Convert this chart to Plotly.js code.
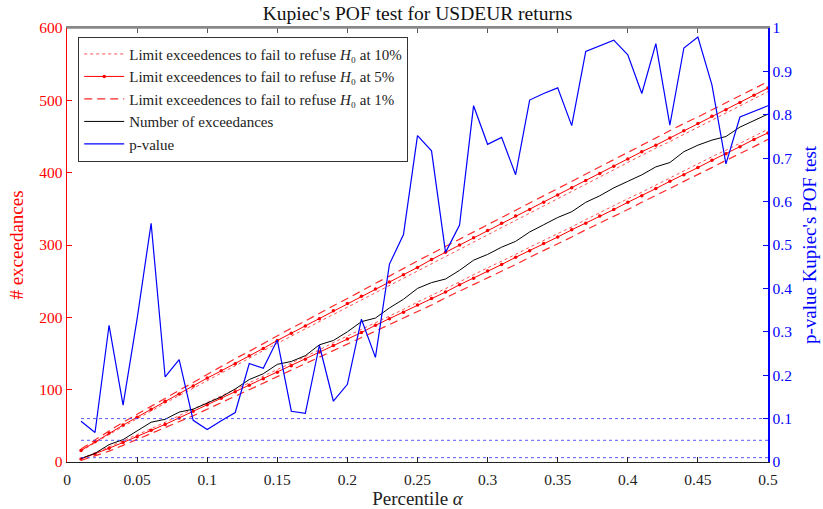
<!DOCTYPE html>
<html>
<head>
<meta charset="utf-8">
<script src="https://cdn.plot.ly/plotly-3.0.1.min.js"></script>
<style>html,body{margin:0;padding:0;background:#fff;}#chart{width:823px;height:509px;}</style>
</head>
<body>
<div id="chart"></div>
<script>
const alpha = [0.01,0.02,0.03,0.04,0.05,0.06,0.07,0.08,0.09,0.10,
  0.11,0.12,0.13,0.14,0.15,0.16,0.17,0.18,0.19,0.20,
  0.21,0.22,0.23,0.24,0.25,0.26,0.27,0.28,0.29,0.30,
  0.31,0.32,0.33,0.34,0.35,0.36,0.37,0.38,0.39,0.40,
  0.41,0.42,0.43,0.44,0.45,0.46,0.47,0.48,0.49,0.50];

const lim10Upper = [15,27,38,49,60,71,81,92,102,113,123,133,144,154,164,174,185,195,205,215,225,235,245,255,265,275,285,295,305,315,325,335,345,355,365,375,384,394,404,414,424,434,443,453,463,473,482,492,502,512];
const lim10Lower = [5,12,21,29,37,46,55,64,73,82,91,100,109,118,128,137,146,155,165,174,183,193,202,211,221,230,240,249,259,268,278,287,297,306,316,325,335,345,354,364,373,383,393,402,412,422,431,441,451,460];
const lim5Upper = [16,28,40,51,62,73,84,94,105,116,126,136,147,157,168,178,188,198,209,219,229,239,249,259,269,280,290,300,310,320,330,340,349,359,369,379,389,399,409,419,429,438,448,458,468,478,487,497,507,517];
const lim5Lower = [4,11,19,27,35,44,52,61,70,79,88,97,106,115,124,133,142,152,161,170,179,189,198,207,217,226,235,245,254,264,273,283,292,302,311,321,330,340,349,359,368,378,388,397,407,417,426,436,446,455];
const lim1Upper = [18,31,43,55,66,77,89,100,110,121,132,143,153,164,174,185,195,206,216,226,237,247,257,268,278,288,298,308,318,328,338,348,358,369,379,388,398,408,418,428,438,448,458,468,477,487,497,507,516,526];
const lim1Lower = [2,8,15,23,31,39,47,56,64,73,82,90,99,108,117,126,135,144,153,162,171,180,190,199,208,217,227,236,245,255,264,273,283,292,302,311,321,330,340,349,359,368,378,388,397,407,417,426,436,446];

const exceedances = [5,12,24,31,43,55,59,69,73,81,90,101,114,122,135,139,147,162,168,180,194,199,213,225,240,248,253,265,279,287,297,305,318,328,338,346,359,368,379,388,397,408,414,429,438,445,450,463,472,481];

const pValue = [0.094,0.068,0.315,0.131,0.33,0.550,0.196,0.236,0.096,0.075,0.095,0.114,0.227,0.216,0.281,0.117,0.112,0.269,0.140,0.179,0.329,0.241,0.456,0.524,0.752,0.717,0.483,0.546,0.821,0.732,0.748,0.662,0.834,0.849,0.862,0.775,0.946,0.959,0.972,0.938,0.849,0.964,0.776,0.954,0.979,0.869,0.687,0.795,0.808,0.821];

const sigLevels = [0.1, 0.05, 0.01];
const sigRange = [0.01, 0.5];

const legendNames = [
  'Limit exceedences to fail to refuse <i>H</i>₀ at 10%',
  'Limit exceedences to fail to refuse <i>H</i>₀ at 5%',
  'Limit exceedences to fail to refuse <i>H</i>₀ at 1%',
  'Number of exceedances',
  'p-value'
];

const FONT = '"Liberation Serif", "Times New Roman", serif';
const dotStyle = {color:'rgb(255,80,80)', width:1, dash:'dot'};
const solidStyle = {color:'rgb(255,0,0)', width:1};
const dashStyle = {color:'rgb(255,40,40)', width:1.2, dash:'8px,5px'};

const traces = [];
traces.push({x:alpha, y:lim10Upper, mode:'lines', line:dotStyle, name:legendNames[0], legendgroup:'g10'});
traces.push({x:alpha, y:lim10Lower, mode:'lines', line:dotStyle, name:legendNames[0], legendgroup:'g10', showlegend:false});
traces.push({x:alpha, y:lim5Upper, mode:'lines+markers', line:solidStyle, marker:{color:'rgb(255,0,0)', size:3.5}, name:legendNames[1], legendgroup:'g5'});
traces.push({x:alpha, y:lim5Lower, mode:'lines+markers', line:solidStyle, marker:{color:'rgb(255,0,0)', size:3.5}, name:legendNames[1], legendgroup:'g5', showlegend:false});
traces.push({x:alpha, y:lim1Upper, mode:'lines', line:dashStyle, name:legendNames[2], legendgroup:'g1'});
traces.push({x:alpha, y:lim1Lower, mode:'lines', line:dashStyle, name:legendNames[2], legendgroup:'g1', showlegend:false});
traces.push({x:alpha, y:exceedances, mode:'lines', line:{color:'#000', width:1}, name:legendNames[3]});
traces.push({x:alpha, y:pValue, mode:'lines', line:{color:'rgb(0,0,255)', width:1.2}, name:legendNames[4], yaxis:'y2'});
sigLevels.forEach(function(s){
  traces.push({x:sigRange, y:[s, s], mode:'lines', line:{color:'rgba(60,60,255,0.85)', width:1, dash:'dot'}, yaxis:'y2', showlegend:false, hoverinfo:'skip'});
});
// invisible trace to anchor the top mirror axis
traces.push({x:sigRange, y:[0,0], xaxis:'x2', yaxis:'y', mode:'lines', line:{width:0.1, color:'rgba(0,0,0,0)'}, showlegend:false, hoverinfo:'skip'});

const layout = {
  width:823, height:509,
  margin:{l:67, r:55, t:28, b:47},
  paper_bgcolor:'#fff', plot_bgcolor:'#fff',
  font:{family:FONT, size:15, color:'#222'},
  showlegend:true,
  title:{text:"Kupiec's POF test for USDEUR returns", font:{family:FONT, size:19.5, color:'#111'}, x:0.5, xref:'paper', xanchor:'center', y:0.975, yref:'container', yanchor:'middle'},
  xaxis:{range:[0,0.5], dtick:0.05, tick0:0, ticks:'inside', ticklen:5, tickcolor:'#222', showgrid:false, zeroline:false, showline:true, linecolor:'#222', linewidth:1,
    ticklabelstandoff:3,
    tickfont:{family:FONT, size:15.5, color:'#222'},
    title:{text:'Percentile <i>α</i>', font:{family:FONT, size:19, color:'#222'}, standoff:2}},
  xaxis2:{range:[0,0.5], dtick:0.05, tick0:0, overlaying:'x', anchor:'y', side:'top', ticks:'inside', ticklen:5, tickcolor:'#555', showticklabels:false, showgrid:false, zeroline:false, showline:true, linecolor:'#888', linewidth:2},
  yaxis:{range:[0,600], dtick:100, ticks:'inside', ticklen:5, tickcolor:'rgb(255,0,0)', showgrid:false, zeroline:false, showline:true, linecolor:'rgb(255,0,0)', linewidth:1.5,
    tickfont:{family:FONT, size:15.5, color:'rgb(255,0,0)'},
    title:{text:'# exceedances', font:{family:FONT, size:19, color:'rgb(255,0,0)'}, standoff:10}},
  yaxis2:{range:[0,1], dtick:0.1, overlaying:'y', side:'right', ticks:'inside', ticklen:5, tickcolor:'rgb(0,0,255)', showgrid:false, zeroline:false, showline:true, linecolor:'rgb(0,0,255)', linewidth:1.5,
    tickfont:{family:FONT, size:15.5, color:'rgb(0,0,255)'},
    title:{text:"p-value Kupiec's POF test", font:{family:FONT, size:19, color:'rgb(0,0,255)'}, standoff:11}},
  shapes:[{type:'line', xref:'paper', yref:'paper', x0:0, x1:1, y0:1, y1:1, line:{color:'#888', width:1.5}, layer:'above'}],
  legend:{x:0.016, y:0.98, xanchor:'left', yanchor:'top', bgcolor:'#fff', bordercolor:'#333', borderwidth:1,
    font:{family:FONT, size:15, color:'#222'}, tracegroupgap:0, itemwidth:40}
};

Plotly.newPlot('chart', traces, layout, {staticPlot:true, displayModeBar:false});
</script>
</body>
</html>
